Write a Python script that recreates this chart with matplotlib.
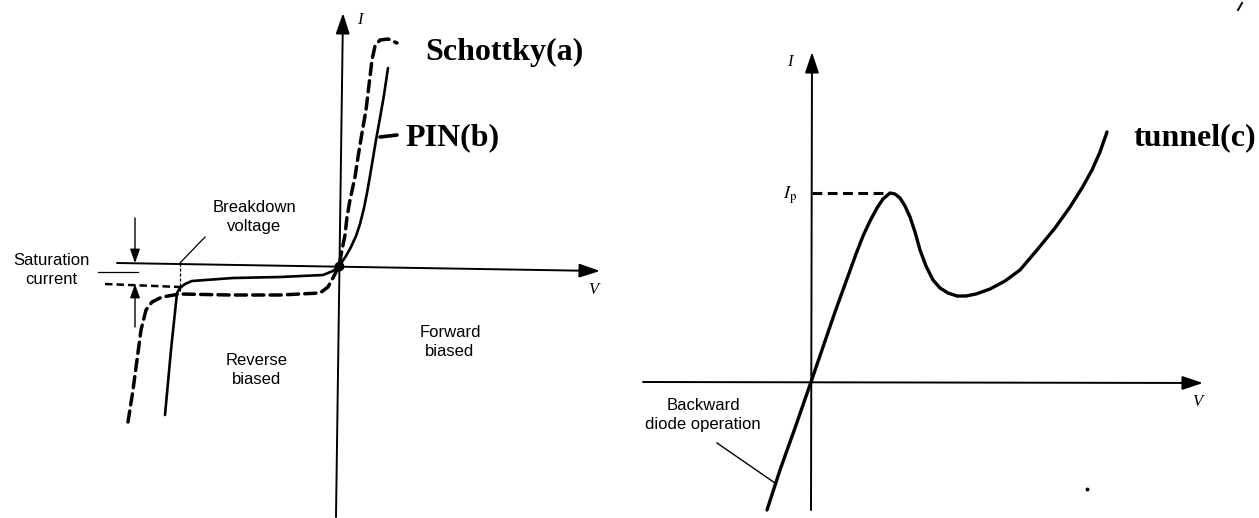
import matplotlib
matplotlib.use("Agg")
import matplotlib.pyplot as plt

plt.rcParams["mathtext.fontset"] = "stix"

# ---- Diode I-V characteristics (schematic units) ----
# PIN diode, solid curve (reverse breakdown -> saturation -> forward conduction)
pin_v = [-17.4, -16.8, -16.2, -15.9, -15.4, -14.7, -10.6, -5.9, -1.6, -0.6, 0.0,
         0.3, 0.7, 1.2, 1.7, 2.1, 2.5, 2.8, 3.1, 3.4, 3.7, 4.1, 4.5, 4.9]
pin_i = [-14.9, -8.4, -2.7, -2.2, -1.8, -1.5, -1.2, -1.1, -0.9, -0.5, 0.0,
         0.4, 1.0, 1.9, 3.0, 4.2, 5.8, 7.3, 9.0, 10.8, 12.6, 14.8, 17.1, 19.8]

# Schottky diode, dashed curve
schottky_v = [-21.1, -20.6, -20.2, -19.8, -19.3, -18.7, -17.7, -15.9, -10.9, -5.9, -1.9,
              -1.1, -0.5, 0.0, 0.3, 0.6, 0.8, 1.1, 1.6, 1.9, 2.3, 2.7, 3.0, 3.3,
              3.6, 4.1, 4.9, 5.8]
schottky_i = [-15.6, -12.4, -9.4, -6.4, -4.4, -3.6, -3.1, -2.8, -2.9, -2.9, -2.7,
              -2.1, -1.0, 0.0, 1.6, 3.1, 4.9, 6.6, 8.9, 10.9, 13.3, 15.6, 18.1, 20.6,
              22.0, 22.6, 22.7, 22.3]

# Tunnel diode, with negative-resistance region between peak and valley
tunnel_v = [-4.4, -3.1, -1.6, 0.0, 2.4, 4.5, 5.2, 5.9, 6.6, 7.2, 7.9, 8.4, 8.9,
            9.4, 9.9, 10.4, 10.9, 11.5, 12.2, 12.9, 13.7, 14.6, 15.5, 16.5, 17.9,
            19.4, 20.9, 22.6, 24.4, 25.9, 27.1, 28.1, 28.9, 29.6]
tunnel_i = [-12.8, -8.8, -4.6, 0.0, 7.0, 12.8, 14.6, 16.1, 17.4, 18.3, 18.9, 18.8,
            18.4, 17.6, 16.5, 15.0, 13.2, 11.6, 10.2, 9.4, 8.9, 8.6, 8.6, 8.8, 9.3,
            10.1, 11.2, 13.2, 15.4, 17.5, 19.4, 21.2, 23.0, 25.0]
peak_v, peak_i = 7.7, 18.9

# reference levels on the left diagram
breakdown_v = -15.9
sat_top, sat_bottom = 0.3, -1.8
sat_marker_v = -20.4

serif = ["Liberation Serif", "DejaVu Serif"]
sans = ["Liberation Sans", "DejaVu Sans"]

fig = plt.figure(figsize=(12.59, 5.18), dpi=100)
fig.patch.set_facecolor("white")

axL = fig.add_axes([0, 0, 620 / 1259, 1])
axR = fig.add_axes([620 / 1259, 0, 639 / 1259, 1])
axL.set_xlim(-33.9, 28.1)
axL.set_ylim(-25.2, 26.6)
axR.set_xlim(-19.1, 44.8)
axR.set_ylim(-13.6, 38.2)
for ax in (axL, axR):
    ax.axis("off")

axis_arrow = dict(arrowstyle="-|>,head_length=0.9,head_width=0.3",
                  mutation_scale=14, lw=1.4, color="black", shrinkA=0, shrinkB=0)
small_arrow = dict(arrowstyle="-|>,head_length=0.7,head_width=0.25",
                   mutation_scale=12, lw=1.0, color="black", shrinkA=0, shrinkB=0)

# ---------------- left: Schottky and PIN ----------------
axL.annotate("", xy=(0.4, 25.3), xytext=(-0.3, -25.1), arrowprops=axis_arrow)
axL.annotate("", xy=(26.1, -0.5), xytext=(-22.2, 0.3), arrowprops=axis_arrow)

axL.plot(pin_v, pin_i, color="black", lw=1.9, solid_joinstyle="round",
         solid_capstyle="round")
axL.plot(schottky_v, schottky_i, color="black", lw=2.5, dashes=(3.2, 1.8),
         dash_capstyle="round", dash_joinstyle="round")
axL.plot([0], [0], "o", color="black", ms=6)

# saturation-current markers
axL.plot([-23.4, -15.9], [-1.8, -2.1], color="black", lw=1.8, dashes=(3.0, 1.6))
axL.plot([-24.1, -20.1], [-0.6, -0.6], color="black", lw=0.9)
axL.annotate("", xy=(sat_marker_v, sat_top), xytext=(sat_marker_v, 4.8),
             arrowprops=small_arrow)
axL.annotate("", xy=(sat_marker_v, sat_bottom), xytext=(sat_marker_v, -6.1),
             arrowprops=small_arrow)

# breakdown-voltage marker
axL.plot([breakdown_v, breakdown_v], [0.3, -2.7], color="black", lw=0.9,
         dashes=(2.5, 1.5))
axL.plot([-13.4, breakdown_v], [2.9, 0.3], color="black", lw=0.9)

# PIN label pointer
axL.plot([4.1, 5.8], [12.9, 13.1], color="black", lw=2.6, solid_capstyle="round")

txt = dict(family=sans, fontsize=12, ha="center", va="center", linespacing=1.4)
axL.text(-8.5, 4.9, "Breakdown\nvoltage", **txt)
axL.text(-28.8, -0.4, "Saturation\ncurrent", **txt)
axL.text(-8.2, -10.4, "Reverse\nbiased", **txt)
axL.text(11.1, -7.6, "Forward\nbiased", **txt)
axL.text(2.1, 24.6, "I", family=serif, style="italic", fontsize=12,
         ha="center", va="center")
axL.text(25.4, -2.4, "V", family=serif, style="italic", fontsize=12,
         ha="center", va="center")

big = dict(family=serif, fontweight="bold", fontsize=23, ha="left", va="center")
axL.text(8.6, 21.4, "Schottky(a)", **big)
axL.text(6.6, 12.8, "PIN(b)", **big)

# ---------------- right: tunnel diode ----------------
axR.annotate("", xy=(0.1, 33.0), xytext=(0.0, -12.8), arrowprops=axis_arrow)
axR.annotate("", xy=(39.2, -0.1), xytext=(-16.8, 0.0), arrowprops=axis_arrow)

axR.plot(tunnel_v, tunnel_i, color="black", lw=2.4, solid_joinstyle="round",
         solid_capstyle="round")
axR.plot([0.1, peak_v], [peak_i, peak_i], color="black", lw=2.2, dashes=(3.2, 1.8))
axR.plot([-9.4, -3.6], [-6.1, -10.1], color="black", lw=1.0)
axR.plot([27.6], [-10.7], "o", color="black", ms=1.8)
axR.plot([42.7, 43.1], [37.2, 37.9], color="black", lw=1.4)

axR.text(-10.8, -3.3, "Backward\ndiode operation", **txt)
axR.text(-2.1, 32.0, "I", family=serif, style="italic", fontsize=12,
         ha="center", va="center")
axR.text(-2.1, 18.7, r"$I_{\mathrm{p}}$", fontsize=13, ha="center", va="center")
axR.text(38.6, -2.0, "V", family=serif, style="italic", fontsize=12,
         ha="center", va="center")
axR.text(32.2, 24.4, "tunnel(c)", **big)

fig.savefig("out.png", dpi=100, facecolor="white")
